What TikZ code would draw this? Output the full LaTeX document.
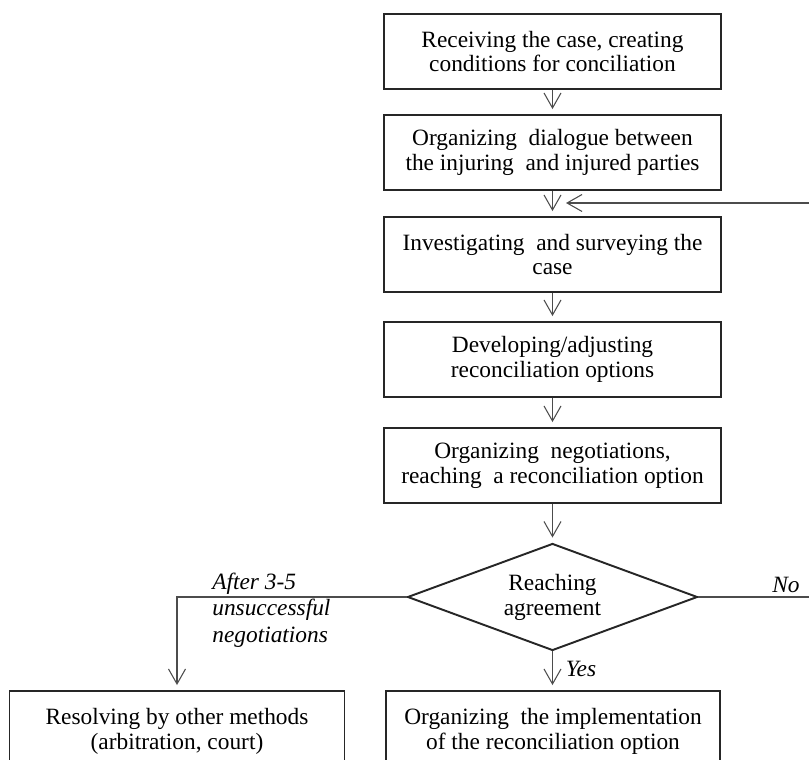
\documentclass[tikz,border=0pt]{standalone}
\usepackage{fontspec}
\setmainfont{Liberation Serif}
\usetikzlibrary{shapes.geometric,arrows.meta}

\tikzset{
  box/.style={draw=black!85, line width=1.1pt, minimum width=6.74cm, minimum height=1.5cm,
    align=center, font=\fontsize{13.3}{14.2}\selectfont},
  decision/.style={draw=black!85, line width=1.1pt, diamond, aspect=2.71, minimum width=5.8cm,
    minimum height=2.14cm, inner sep=0pt, align=center, font=\fontsize{13.3}{14.2}\selectfont},
  arr/.style={draw=black!70, line width=0.6pt, -{Straight Barb[length=3mm,width=3.4mm]}, shorten >=1mm},
  link/.style={draw=black!70, line width=0.6pt},
  note/.style={font=\itshape\fontsize{13.3}{15.2}\selectfont, inner sep=0pt}
}

\begin{document}
\begin{tikzpicture}[x=0.02cm, y=-0.02cm]
        \useasboundingbox (0,0) rectangle (809,760);
        \clip (0,0) rectangle (809,760);

        \node[box] (recv) at (552.5,51.5) {Receiving the case, creating\\conditions for conciliation};
        \node[box] (dial) at (552.5,152.5) {Organizing \ dialogue between\\the injuring \ and injured parties};
        \node[box] (inv) at (552.5,254.5) {Investigating \ and surveying the\\case};
        \node[box] (dev) at (552.5,359.5) {Developing/adjusting\\reconciliation options};
        \node[box] (neg) at (552.5,465.5) {Organizing \ negotiations,\\reaching \ a reconciliation option};
        \node[decision] (agr) at (552.5,597) {Reaching\\agreement};
        \node[box, minimum width=6.7cm, minimum height=1.6cm] (other) at (177,731) {Resolving by other methods\\(arbitration, court)};
        \node[box, minimum width=6.68cm, minimum height=1.6cm] (impl) at (553,731) {Organizing \ the implementation\\of the reconciliation option};

        \coordinate (back) at (815,203);
        \coordinate (backend) at (566,203);
        \coordinate (noend) at (815,597);

        \draw[arr] (recv) -- (dial);
        \draw[arr] (dial) -- (inv);
        \draw[arr] (inv) -- (dev);
        \draw[arr] (dev) -- (neg);
        \draw[arr] (neg) -- (agr);
        \draw[arr] (agr.south) -- (agr.south |- impl.north);
        \draw[arr] (agr.west) -| (other.north);
        \draw[link] (agr.east) -- (noend);
        \draw[arr, shorten >=0pt] (back) -- (backend);

        \node[note, anchor=west, align=left] (after) at (212,610) {After 3-5\\unsuccessful\\negotiations};
        \node[note] (yes) at (581,669) {Yes};
        \node[note] (no) at (786,585) {No};
    \end{tikzpicture}
\end{document}
